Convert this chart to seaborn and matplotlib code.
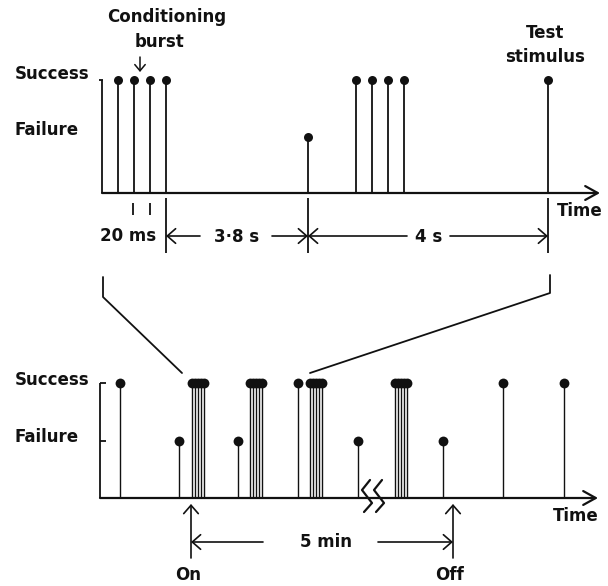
import pandas as pd
import matplotlib.pyplot as plt
import seaborn as sns

# Schematic time positions (arbitrary units, 0 = the y axis of each panel)
top_times = [16, 32, 48, 64, 206, 254, 270, 286, 302, 446]
top_outcomes = ['Success', 'Success', 'Success', 'Success', 'Failure',
                'Success', 'Success', 'Success', 'Success', 'Success']

bottom_single_times = [20, 79, 138, 198, 258, 343, 403, 464]
bottom_single_outcomes = ['Success', 'Failure', 'Failure', 'Success',
                          'Failure', 'Failure', 'Success', 'Success']
burst_1 = [92, 95, 98, 101, 104]
burst_2 = [150, 153, 156, 159, 162]
burst_3 = [210, 213, 216, 219, 222]
burst_4 = [295, 298, 301, 304, 307]

levels = {'Failure': 1, 'Success': 2}

top = pd.DataFrame({'time': top_times, 'outcome': top_outcomes})
top['level'] = top['outcome'].map(levels)

burst_times = burst_1 + burst_2 + burst_3 + burst_4
bottom = pd.DataFrame({
    'time': bottom_single_times + burst_times,
    'outcome': bottom_single_outcomes + ['Success'] * len(burst_times),
})
bottom['level'] = bottom['outcome'].map(levels)

sns.set_style('white')
plt.rcParams['font.family'] = ['DejaVu Sans']

fig = plt.figure(figsize=(6.08, 5.86), dpi=100)
fig.patch.set_facecolor('white')

ink = '#111111'
stem_lw = 1.3

# top panel
ax1 = fig.add_axes([0, 0, 1, 1])
ax1.vlines(top['time'], 0, top['level'], colors=ink, lw=stem_lw)
sns.scatterplot(data=top, x='time', y='level', color=ink, s=42,
                linewidth=0, ax=ax1, legend=False, zorder=3)
ax1.vlines(0, 0, 2, colors=ink, lw=stem_lw)
ax1.hlines(2, -3, 1, colors=ink, lw=stem_lw)
ax1.annotate('', xy=(498, 0), xytext=(0, 0),
             arrowprops=dict(arrowstyle='->,head_length=0.45,head_width=0.25',
                             lw=1.6, color=ink, shrinkA=0, shrinkB=0,
                             mutation_scale=20))
ax1.set_xlim(-102, 506)
ax1.set_ylim(-393 / 56.5, 193 / 56.5)
ax1.axis('off')
ax1.patch.set_alpha(0)

# bottom panel
ax2 = fig.add_axes([0, 0, 1, 1])
ax2.vlines(bottom['time'], 0, bottom['level'], colors=ink, lw=1.0)
sns.scatterplot(data=bottom, x='time', y='level', color=ink, s=50,
                linewidth=0, ax=ax2, legend=False, zorder=3)
ax2.vlines(0, 0, 2, colors=ink, lw=stem_lw)
ax2.hlines([1, 2], 0, 6, colors=ink, lw=stem_lw)
ax2.annotate('', xy=(498, 0), xytext=(0, 0),
             arrowprops=dict(arrowstyle='->,head_length=0.45,head_width=0.25',
                             lw=1.6, color=ink, shrinkA=0, shrinkB=0,
                             mutation_scale=20))
ax2.set_xlim(-100, 508)
ax2.set_ylim(-88 / 57.5, 498 / 57.5)
ax2.axis('off')
ax2.patch.set_alpha(0)

# overlay for annotations, in pixel units
ov = fig.add_axes([0, 0, 1, 1])
ov.set_xlim(0, 608)
ov.set_ylim(586, 0)
ov.axis('off')
ov.patch.set_alpha(0)

txt = dict(color=ink, fontsize=12, fontweight='bold')


def dim_arrow(x0, x1, y):
    ov.annotate('', xy=(x1, y), xytext=(x0, y),
                arrowprops=dict(arrowstyle='->,head_length=0.4,head_width=0.35',
                                lw=1.2, color=ink, shrinkA=0, shrinkB=0,
                                mutation_scale=15))


# top annotations
ov.text(167, 17, 'Conditioning', ha='center', va='center', **txt)
ov.text(160, 42, 'burst', ha='center', va='center', **txt)
ov.annotate('', xy=(140, 72), xytext=(140, 57),
            arrowprops=dict(arrowstyle='->,head_length=0.3,head_width=0.25',
                            lw=1.1, color=ink, shrinkA=0, shrinkB=0,
                            mutation_scale=15))
ov.text(545, 33, 'Test', ha='center', va='center', **txt)
ov.text(545, 57, 'stimulus', ha='center', va='center', **txt)
ov.text(15, 74, 'Success', ha='left', va='center', **txt)
ov.text(15, 130, 'Failure', ha='left', va='center', **txt)
ov.text(557, 211, 'Time', ha='left', va='center', **txt)

ov.vlines([133, 150], 203, 215, colors=ink, lw=1.3)
ov.vlines([166, 308, 548], 198, 253, colors=ink, lw=1.3)
ov.text(128, 236, '20 ms', ha='center', va='center', **txt)
dim_arrow(200, 166, 236)
dim_arrow(272, 308, 236)
ov.text(237, 237, '3·8 s', ha='center', va='center', **txt)
dim_arrow(407, 308, 236)
dim_arrow(450, 548, 236)
ov.text(429, 237, '4 s', ha='center', va='center', **txt)

# zoom lines linking the panels
ov.plot([103, 103, 182], [277, 297, 373], color=ink, lw=1.3)
ov.plot([550, 550, 310], [275, 293, 373], color=ink, lw=1.3)

# bottom annotations
ov.text(15, 380, 'Success', ha='left', va='center', **txt)
ov.text(15, 437, 'Failure', ha='left', va='center', **txt)
ov.text(553, 516, 'Time', ha='left', va='center', **txt)

for bx in [362, 374]:
    ov.plot([bx + 8, bx, bx + 10, bx + 2], [480, 490, 503, 512],
            color=ink, lw=1.6)

for ax_x, label in [(191, 'On'), (453, 'Off')]:
    ov.annotate('', xy=(ax_x, 504), xytext=(ax_x, 558),
                arrowprops=dict(arrowstyle='->,head_length=0.4,head_width=0.35',
                                lw=1.2, color=ink, shrinkA=0, shrinkB=0,
                                mutation_scale=15))
    ov.text(ax_x - 3, 575, label, ha='center', va='center', **txt)

dim_arrow(263, 191, 542)
dim_arrow(378, 453, 542)
ov.text(326, 542, '5 min', ha='center', va='center', **txt)

fig.savefig('out.png', dpi=100, facecolor='white')
